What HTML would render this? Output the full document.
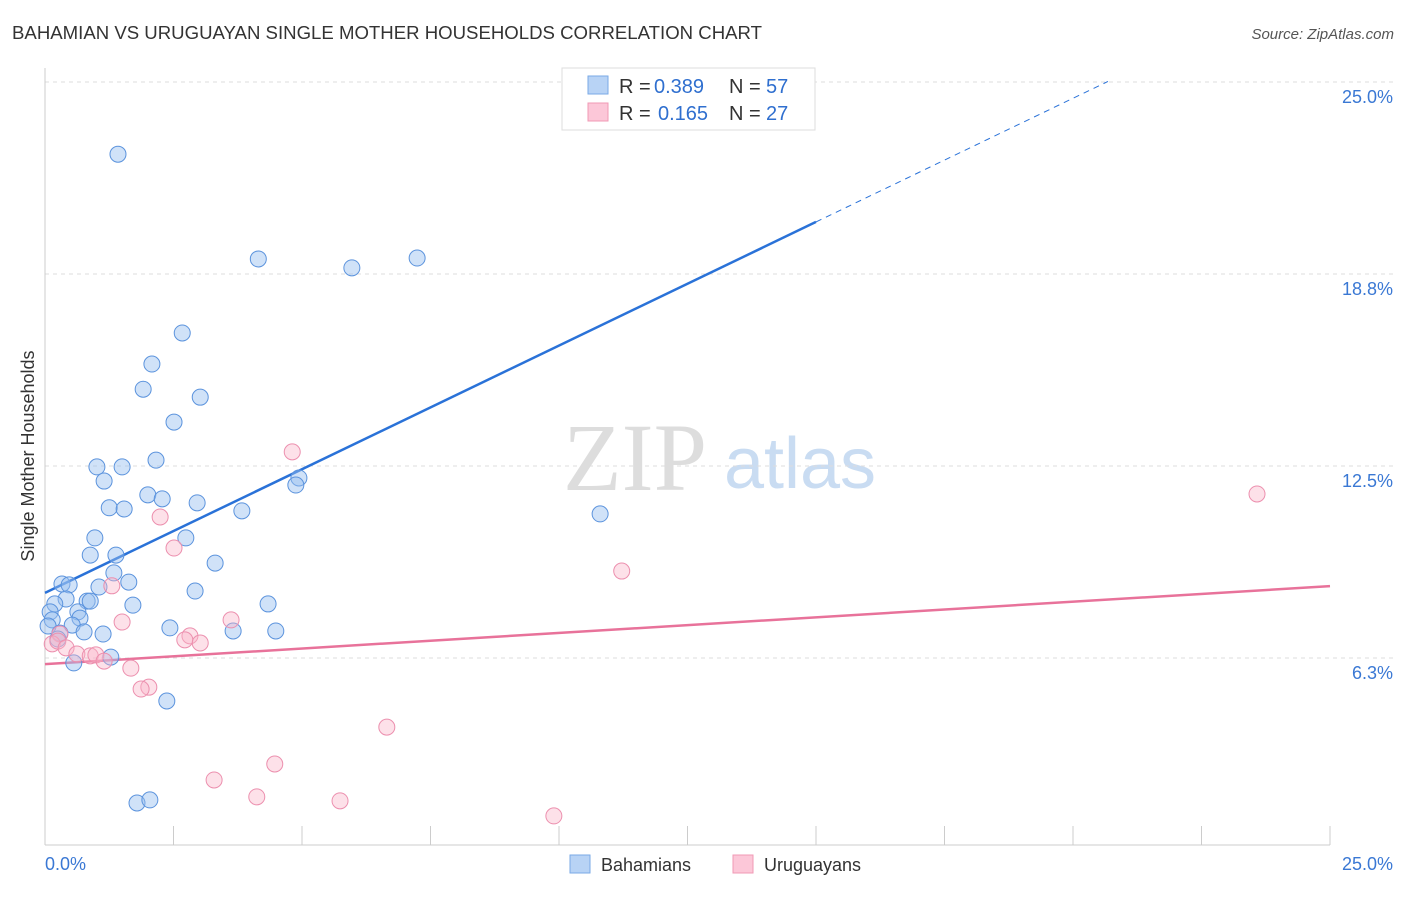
<!DOCTYPE html>
<html><head><meta charset="utf-8"><style>
body{margin:0;background:#fff;font-family:"Liberation Sans",sans-serif;}
</style></head><body>
<svg id="chart" width="1406" height="892" viewBox="0 0 1406 892" xmlns="http://www.w3.org/2000/svg" font-family="Liberation Sans, sans-serif">
<text x="12" y="39" font-size="18" fill="#333" textLength="750" lengthAdjust="spacingAndGlyphs">BAHAMIAN VS URUGUAYAN SINGLE MOTHER HOUSEHOLDS CORRELATION CHART</text>
<text x="1394" y="39" font-size="15" fill="#555" font-style="italic" text-anchor="end">Source: ZipAtlas.com</text>
<g>
<text x="635" y="490" font-size="96" fill="#ddd" font-family="Liberation Serif, serif" text-anchor="middle">ZIP</text>
<text x="800" y="488" font-size="72" fill="#c9dcf2" text-anchor="middle">atlas</text>
</g>
<text transform="translate(34,456) rotate(-90)" font-size="18" fill="#333" text-anchor="middle">Single Mother Households</text>
<g id="grid"></g><g id="axes"></g><g id="lines"></g><g id="pts"></g>
<g>
<rect x="562" y="68" width="253" height="62" fill="#fff" stroke="#ddd"/>
<rect x="588" y="76" width="20" height="18" fill="#b8d3f5" stroke="#7aa9e6"/>
<rect x="588" y="103" width="20" height="18" fill="#fcc7d8" stroke="#f09ab5"/>
<text x="619" y="93" font-size="20" fill="#333">R =</text>
<text x="654" y="93" font-size="20" fill="#2f6fcf">0.389</text>
<text x="729" y="93" font-size="20" fill="#333">N =</text>
<text x="766" y="93" font-size="20" fill="#2f6fcf">57</text>
<text x="619" y="120" font-size="20" fill="#333">R =</text>
<text x="658" y="120" font-size="20" fill="#2f6fcf">0.165</text>
<text x="729" y="120" font-size="20" fill="#333">N =</text>
<text x="766" y="120" font-size="20" fill="#2f6fcf">27</text>
</g>
<g>
<rect x="570" y="855" width="20" height="18" fill="#b8d3f5" stroke="#7aa9e6"/>
<text x="601" y="871" font-size="18" fill="#333">Bahamians</text>
<rect x="733" y="855" width="20" height="18" fill="#fcc7d8" stroke="#f09ab5"/>
<text x="764" y="871" font-size="18" fill="#333">Uruguayans</text>
</g>
</svg>
<script>
const yTicks=[6.25,12.5,18.75,25];
const yTickLabels=["6.3%","12.5%","18.8%","25.0%"];
const xTickLabels=["0.0%","25.0%"];
const blueX=[1.42,4.15,5.97,7.24,2.67,2.08,1.91,3.02,2.51,1.01,1.5,2.16,1.15,2.0,2.28,2.96,1.25,1.54,3.83,4.94,4.88,10.8,0.97,2.74,0.88,1.38,3.31,1.34,0.33,0.47,1.05,1.63,2.92,0.41,0.82,0.88,0.19,1.71,4.34,0.1,0.64,0.68,0.14,0.53,0.06,2.43,3.66,4.49,1.13,0.76,0.29,0.25,1.28,0.56,2.37,1.79,2.04];
const blueY=[22.65,19.24,18.95,19.27,16.83,15.82,15.0,14.74,13.93,12.47,12.47,12.69,12.01,11.56,11.43,11.3,11.14,11.1,11.04,12.11,11.88,10.94,10.16,10.16,9.6,9.6,9.34,9.02,8.66,8.63,8.56,8.72,8.43,8.17,8.1,8.1,8.01,7.97,8.01,7.75,7.75,7.55,7.49,7.32,7.29,7.23,7.13,7.13,7.03,7.1,7.06,6.87,6.28,6.09,4.85,1.53,1.63];
const pinkX=[4.81,23.58,2.24,2.51,11.22,1.3,3.62,1.5,2.82,2.72,3.02,0.29,0.14,0.25,0.41,0.62,0.88,0.99,1.15,1.67,2.02,1.87,6.65,4.47,3.29,4.12,5.74,9.9];
const pinkY=[12.96,11.59,10.84,9.83,9.08,8.6,7.49,7.42,6.97,6.84,6.74,7.03,6.71,6.8,6.58,6.38,6.32,6.35,6.15,5.92,5.3,5.24,4.0,2.8,2.28,1.73,1.6,1.11];
const blueInt=8.37; const blueSlope=0.805; const pinkInt=6.05; const pinkSlope=0.1016;
const X=v=>45+v*51.4, Y=v=>850-v*30.72;
const NS="http://www.w3.org/2000/svg";
function mk(p,t,a){const e=document.createElementNS(NS,t);for(const k in a)e.setAttribute(k,a[k]);document.getElementById(p).appendChild(e);return e;}
yTicks.forEach((v,i)=>{
 const g=mk('grid','line',{x1:45,x2:1394,y1:Y(v),y2:Y(v),stroke:'#ddd','stroke-dasharray':'4,4'});
 
 
 const t=mk('axes','text',{x:1393,y:Y(v)+21,'font-size':18,fill:'#3a78d4','text-anchor':'end'});t.textContent=yTickLabels[i];
 
 
});
let a=mk('axes','line',{x1:45,x2:45,y1:68,y2:845,stroke:'#ccc'});


a=mk('axes','line',{x1:45,x2:1330,y1:845,y2:845,stroke:'#ccc'});


for(let i=0;i<=10;i++){const t=mk('axes','line',{x1:X(i*2.5),x2:X(i*2.5),y1:826,y2:845,stroke:'#ccc'});
 
 }
[[0,xTickLabels[0],'start',45],[25,xTickLabels[1],'end',1393]].forEach(d=>{const t=mk('axes','text',{x:d[3],y:870,'font-size':18,fill:'#3a78d4','text-anchor':d[2]});t.textContent=d[1];
 
 });
let l=mk('lines','line',{x1:X(0),y1:Y(blueInt),x2:X(15),y2:Y(blueInt+15*blueSlope),stroke:'#2a72d8','stroke-width':2.5});


l=mk('lines','line',{x1:X(15),y1:Y(blueInt+15*blueSlope),x2:X(20.68),y2:Y(blueInt+20.68*blueSlope),stroke:'#2a72d8','stroke-width':1,'stroke-dasharray':'6,5'});


l=mk('lines','line',{x1:X(0),y1:Y(pinkInt),x2:X(25),y2:Y(pinkInt+25*pinkSlope),stroke:'#e8729a','stroke-width':2.5});


blueX.forEach((v,i)=>{const c=mk('pts','circle',{cx:X(v),cy:Y(blueY[i]),r:8,fill:'rgba(150,190,240,0.45)',stroke:'#5b93dd','stroke-width':1});
 
 });
pinkX.forEach((v,i)=>{const c=mk('pts','circle',{cx:X(v),cy:Y(pinkY[i]),r:8,fill:'rgba(250,180,200,0.4)',stroke:'#ec8fae','stroke-width':1});
 
 });
</script>
</body></html>
